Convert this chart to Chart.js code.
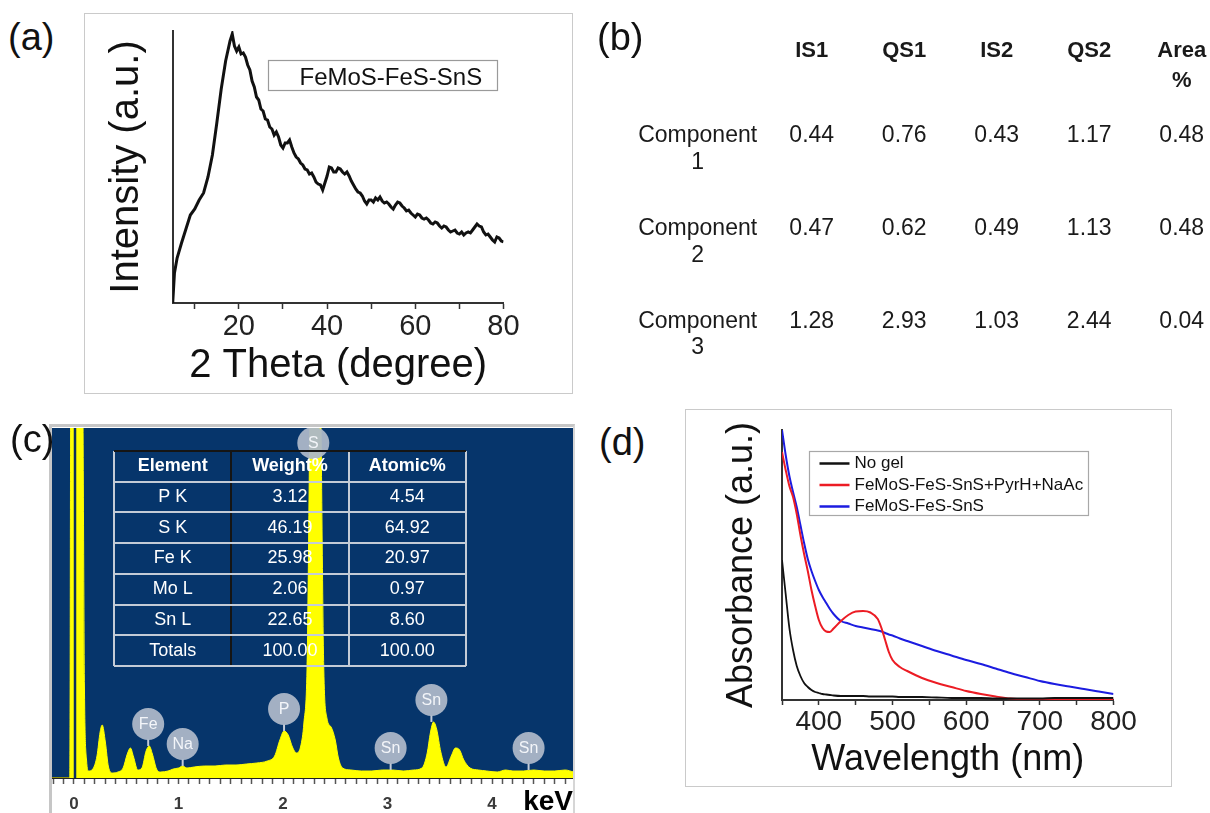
<!DOCTYPE html>
<html lang="en">
<head>
<meta charset="utf-8">
<title>FeMoS-FeS-SnS characterisation</title>
<script src="https://cdn.jsdelivr.net/npm/chart.js"></script>
<style>
  html, body { margin: 0; padding: 0; background: #ffffff; }
  body { position: relative; width: 1210px; height: 813px; overflow: hidden;
         font-family: "Liberation Sans", Arial, sans-serif; color: #111; }
  .tag { position: absolute; font-size: 38px; line-height: 38px; z-index: 5; }
  .frame { position: absolute; box-sizing: border-box; border: 1.5px solid #cacaca; }
  canvas { position: absolute; }
</style>
</head>
<body>
  <div class="frame" style="left:84px; top:13px; width:489px; height:381px"></div>
  <div class="frame" style="left:685px; top:409px; width:487px; height:378px"></div>
  <div style="position:absolute; left:49px; top:424px; width:526px; height:400px; box-sizing:border-box;
              border-top:3px solid #c6c6c6; border-left:3px solid #c6c6c6; border-right:2px solid #d6d6d6"></div>

  <canvas id="xrd" width="489" height="380" style="left:84px; top:13px"></canvas>
  <canvas id="moss" width="615" height="371" style="left:613px; top:-3px"></canvas>
  <canvas id="eds" width="521" height="392" style="left:52px; top:428px"></canvas>
  <canvas id="edsTable" width="356" height="219" style="left:112px; top:449px"></canvas>
  <canvas id="uv" width="487" height="378" style="left:685px; top:409px"></canvas>

  <div class="tag" style="left:8px; top:18px">(a)</div>
  <div class="tag" style="left:597px; top:18px">(b)</div>
  <div class="tag" style="left:10px; top:420px">(c)</div>
  <div class="tag" style="left:599px; top:423px">(d)</div>

<script>
"use strict";

// (a) XRD pattern
const xrdTheta = [5, 5.4, 6, 7, 8, 9, 10, 11, 12, 13, 14, 15, 16, 17, 18, 18.5,
  19, 19.5, 20, 20.5, 21, 21.5, 22, 22.5, 23, 23.5, 24, 24.5, 25, 25.5, 26, 26.5, 27, 27.5,
  28, 28.5, 29, 29.5, 30, 30.5, 31, 31.5, 32, 32.5, 33, 33.5, 34, 34.5, 35, 35.5, 36, 36.5,
  37, 37.5, 38, 38.5, 39, 39.5, 40, 40.5, 41, 41.5, 42, 42.5, 43, 43.5, 44, 44.5, 45, 45.5,
  46, 46.5, 47, 47.5, 48, 48.5, 49, 49.5, 50, 50.5, 51, 51.5, 52, 52.5, 53, 53.5, 54, 54.5,
  55, 55.5, 56, 56.5, 57, 57.5, 58, 58.5, 59, 59.5, 60, 60.5, 61, 61.5, 62, 62.5, 63, 63.5,
  64, 64.5, 65, 65.5, 66, 66.5, 67, 67.5, 68, 68.5, 69, 69.5, 70, 70.5, 71, 71.5, 72, 72.5,
  73, 73.5, 74, 74.5, 75, 75.5, 76, 76.5, 77, 77.5, 78, 78.5, 79, 79.5, 80];
const xrdIntensity = [0, 30, 45, 60, 74, 88, 94, 103, 110, 126, 148, 180, 214, 242, 262, 269,
  257, 252, 256, 249, 250, 246, 238, 233, 222, 216, 206, 203, 194, 192, 184, 183, 176, 174,
  168, 171, 166, 158, 155, 160, 160, 163, 156, 150, 146, 144, 140, 138, 134, 133, 129, 130,
  126, 121, 119, 118, 113, 120, 127, 136, 135, 131, 131, 135, 134, 131, 129, 131, 127, 122,
  118, 114, 111, 110, 107, 102, 99, 103, 103, 101, 105, 103, 106, 102, 100, 101, 99, 96,
  94, 98, 101, 100, 97, 95, 92, 93, 90, 88, 86, 89, 88, 85, 84, 85, 83, 80,
  79, 81, 80, 77, 75, 77, 76, 73, 71, 72, 73, 70, 69, 71, 68, 70, 71, 70,
  73, 76, 79, 77, 76, 71, 68, 69, 66, 63, 61, 66, 65, 62, 61];
const xrdLabel = "FeMoS-FeS-SnS";
const xrdTickLabels = [20, 40, 60, 80];

// (b) Mossbauer fit parameters
const mossHeaders = ["IS1", "QS1", "IS2", "QS2", "Area %"];
const mossComponents = ["Component 1", "Component 2", "Component 3"];
const mossIS1 = [0.44, 0.47, 1.28];
const mossQS1 = [0.76, 0.62, 2.93];
const mossIS2 = [0.43, 0.49, 1.03];
const mossQS2 = [1.17, 1.13, 2.44];
const mossArea = [0.48, 0.48, 0.04];

// (c) EDS spectrum
const edsEnergy = [-0.21, -0.04, -0.03, 0.08, 0.10, 0.12, 0.14, 0.18, 0.22, 0.25,
  0.27, 0.30, 0.33, 0.37, 0.42, 0.47, 0.51, 0.54, 0.57, 0.61,
  0.65, 0.69, 0.72, 0.75, 0.79, 0.83, 0.90, 0.95, 1.00, 1.04,
  1.08, 1.15, 1.25, 1.35, 1.45, 1.55, 1.65, 1.75, 1.85, 1.92,
  1.97, 2.01, 2.05, 2.09, 2.13, 2.17, 2.20, 2.23, 2.27, 2.35,
  2.39, 2.42, 2.46, 2.50, 2.53, 2.57, 2.65, 2.75, 2.85, 2.95,
  3.05, 3.15, 3.25, 3.33, 3.38, 3.41, 3.44, 3.47, 3.51, 3.56,
  3.61, 3.65, 3.69, 3.73, 3.79, 3.87, 3.95, 4.05, 4.13, 4.20,
  4.30, 4.40, 4.50, 4.60, 4.70, 4.78];
const edsCounts = [0, 0, 420, 420, 90, 18, 7, 9, 22, 46,
  53, 36, 11, 5, 6, 10, 24, 30, 21, 8,
  10, 27, 32, 24, 9, 6, 7, 9, 10, 12,
  10, 11, 12, 12, 13, 13, 14, 15, 17, 22,
  38, 47, 43, 31, 25, 32, 55, 110, 420, 420,
  110, 60, 51, 38, 20, 10, 8, 7, 7, 8,
  8, 7, 8, 10, 25, 45, 56, 49, 26, 11,
  22, 30, 28, 18, 10, 8, 7, 6, 8, 7,
  7, 8, 7, 7, 8, 6];
const edsPeakLabels = ["S", "Fe", "Na", "P", "Sn", "Sn", "Sn"];
const edsPeakEnergy = [2.29, 0.71, 1.04, 2.01, 3.03, 3.42, 4.35];
const edsPeakHeight = [420, 32, 12, 47, 8, 56, 8];
const edsTickLabels = [0, 1, 2, 3, 4];
const edsTableHeaders = ["Element", "Weight%", "Atomic%"];
const edsElements = ["P K", "S K", "Fe K", "Mo L", "Sn L", "Totals"];
const edsWeight = [3.12, 46.19, 25.98, 2.06, 22.65, 100.00];
const edsAtomic = [4.54, 64.92, 20.97, 0.97, 8.60, 100.00];

// (d) UV-vis absorbance
const uvWavelength = [350, 355, 360, 365, 370, 375, 380, 385, 390, 395, 400, 405, 410, 415, 420,
  430, 440, 450, 460, 470, 480, 485, 490, 495, 500, 510, 520, 540, 560, 580, 600,
  620, 640, 660, 680, 700, 720, 740, 760, 780, 800];
const uvNoGel = [1.40, 1.06, 0.72, 0.50, 0.34, 0.24, 0.17, 0.13, 0.10, 0.08, 0.07, 0.06, 0.055, 0.05, 0.045,
  0.04, 0.04, 0.04, 0.04, 0.035, 0.035, 0.035, 0.035, 0.035, 0.035, 0.03, 0.03, 0.03, 0.025, 0.02, 0.02,
  0.02, 0.015, 0.015, 0.015, 0.015, 0.02, 0.02, 0.02, 0.02, 0.02];
const uvGelPyrNaAc = [2.48, 2.30, 2.14, 2.03, 1.86, 1.65, 1.46, 1.29, 1.10, 0.94, 0.80, 0.72, 0.685, 0.68, 0.715,
  0.79, 0.85, 0.885, 0.89, 0.875, 0.81, 0.72, 0.60, 0.48, 0.40, 0.33, 0.29, 0.22, 0.17, 0.13, 0.09,
  0.06, 0.035, 0.015, 0.01, 0.01, 0.01, 0.01, 0.01, 0.01, 0.01];
const uvGel = [2.70, 2.45, 2.24, 2.08, 1.93, 1.75, 1.57, 1.41, 1.29, 1.19, 1.10, 1.03, 0.97, 0.91, 0.86,
  0.79, 0.765, 0.74, 0.725, 0.71, 0.695, 0.685, 0.67, 0.655, 0.645, 0.615, 0.59, 0.54, 0.49, 0.445, 0.40,
  0.36, 0.315, 0.27, 0.23, 0.19, 0.16, 0.135, 0.11, 0.085, 0.06];
const uvLabels = ["No gel", "FeMoS-FeS-SnS+PyrH+NaAc", "FeMoS-FeS-SnS"];
const uvColors = ["#111111", "#ec1c24", "#1c1ce0"];
const uvTickLabels = [400, 500, 600, 700, 800];

const FAMILY = '"Liberation Sans", Arial, sans-serif';
Chart.defaults.font.family = FAMILY;
Chart.defaults.color = "#111";

function pairs(xs, ys) {
  return xs.map((x, i) => ({ x: x, y: ys[i] }));
}

// legend drawn as a framed box relative to the chart area
const boxLegend = {
  id: "boxLegend",
  afterDatasetsDraw(chart, args, o) {
    const ctx = chart.ctx;
    const a = chart.chartArea;
    const x0 = Math.round(a.left + o.dx) + 0.5;
    const y0 = Math.round(a.top + o.dy) + 0.5;
    ctx.save();
    ctx.fillStyle = "#fff";
    ctx.fillRect(x0, y0, o.w, o.h);
    ctx.strokeStyle = o.border;
    ctx.lineWidth = 1.2;
    ctx.strokeRect(x0, y0, o.w, o.h);
    ctx.font = o.size + "px " + FAMILY;
    ctx.textBaseline = "middle";
    ctx.textAlign = "left";
    chart.data.datasets.forEach((ds, i) => {
      const cy = y0 + o.first + i * o.gap;
      if (o.sample) {
        ctx.strokeStyle = ds.borderColor;
        ctx.lineWidth = 2.5;
        ctx.beginPath();
        ctx.moveTo(x0 + o.sx, cy);
        ctx.lineTo(x0 + o.sx + o.sample, cy);
        ctx.stroke();
      }
      ctx.fillStyle = "#111";
      ctx.fillText(ds.label, x0 + o.tx, cy);
    });
    ctx.restore();
  }
};

// text in table cells, placed at the point positions from the category scales
const cellText = {
  id: "cellText",
  afterDatasetsDraw(chart) {
    const ctx = chart.ctx;
    ctx.save();
    ctx.textAlign = "center";
    ctx.textBaseline = "middle";
    chart.data.datasets.forEach((ds, i) => {
      const meta = chart.getDatasetMeta(i);
      ctx.font = ds.cellFont + " " + FAMILY;
      ctx.fillStyle = ds.cellColor;
      meta.data.forEach((pt, j) => {
        String(ds.data[j].t).split("\n").forEach((line, k) => {
          ctx.fillText(line, pt.x + (ds.dx || 0), pt.y + (ds.dy || 0) + k * (ds.lineGap || 0));
        });
      });
    });
    ctx.restore();
  }
};

const edsBackdrop = {
  id: "edsBackdrop",
  beforeDraw(chart) {
    const { ctx, chartArea: a } = chart;
    ctx.save();
    ctx.fillStyle = "#06356b";
    ctx.fillRect(a.left, a.top, a.right - a.left, a.bottom - a.top);
    ctx.restore();
  }
};

const edsBadges = {
  id: "edsBadges",
  afterDatasetsDraw(chart) {
    const { ctx, chartArea: a } = chart;
    const x = chart.scales.x;
    const y = chart.scales.y;
    ctx.save();
    const z = x.getPixelForValue(0) + 1;
    ctx.strokeStyle = "#0a2f5e";
    ctx.lineWidth = 2.5;
    ctx.beginPath();
    ctx.moveTo(z, a.top);
    ctx.lineTo(z, a.bottom);
    ctx.stroke();

    const r = 16;
    edsPeakLabels.forEach((lab, i) => {
      const px = x.getPixelForValue(edsPeakEnergy[i]);
      const peakY = Math.max(y.getPixelForValue(edsPeakHeight[i]), a.top);
      const cy = Math.max(peakY - 22, a.top + 15);
      if (peakY > cy + r) {
        ctx.strokeStyle = "#c3cbd8";
        ctx.lineWidth = 2;
        ctx.beginPath();
        ctx.moveTo(px, cy + r - 1);
        ctx.lineTo(px, peakY);
        ctx.stroke();
      }
      ctx.fillStyle = "rgba(172, 183, 200, 0.95)";
      ctx.beginPath();
      ctx.arc(px, cy, r, 0, Math.PI * 2);
      ctx.fill();
      ctx.fillStyle = "#f3f5f9";
      ctx.font = "16px " + FAMILY;
      ctx.textAlign = "center";
      ctx.textBaseline = "middle";
      ctx.fillText(lab, px, cy + 1);
    });
    ctx.restore();
  }
};

const baseOptions = {
  responsive: false,
  animation: false,
  devicePixelRatio: 1,
  events: []
};

// (a)
new Chart(document.getElementById("xrd"), {
  type: "line",
  data: {
    datasets: [{
      label: xrdLabel,
      data: pairs(xrdTheta, xrdIntensity),
      borderColor: "#111111",
      borderWidth: 3,
      pointRadius: 0,
      tension: 0
    }]
  },
  options: Object.assign({}, baseOptions, {
    layout: { padding: { left: 0, right: 69.5, top: 18, bottom: 0 } },
    plugins: {
      legend: { display: false },
      tooltip: { enabled: false },
      boxLegend: { dx: 95, dy: 29, w: 229, h: 30, first: 18, gap: 0, tx: 31, size: 24, sample: 0, border: "#9a9a9a" }
    },
    scales: {
      x: {
        type: "linear", min: 5, max: 80,
        afterFit: (s) => { s.height = 90; s.paddingLeft = 0; s.paddingRight = 0; },
        ticks: {
          stepSize: 10, includeBounds: false, autoSkip: false, maxRotation: 0, padding: 1,
          color: "#222", font: { size: 29 },
          callback: (v) => (xrdTickLabels.includes(v) ? String(v) : "")
        },
        grid: { drawOnChartArea: false, drawTicks: true, tickLength: 6, tickWidth: 1.5, tickColor: "#333" },
        border: { display: true, color: "#333", width: 2 },
        title: { display: true, text: "2 Theta (degree)", color: "#111", font: { size: 40 }, padding: { top: 0, bottom: 3.5 } }
      },
      y: {
        min: 0, max: 272,
        afterFit: (s) => { s.width = 88.7; },
        ticks: { display: false },
        grid: { drawOnChartArea: false, drawTicks: false },
        border: { display: true, color: "#333", width: 2 },
        title: { display: true, text: "Intensity (a.u.)", color: "#111", font: { size: 40 }, padding: { top: 19, bottom: 0 } }
      }
    }
  }),
  plugins: [boxLegend]
});

// (b)
const mossCols = ["label"].concat(mossHeaders);
const mossRows = ["head"].concat(mossComponents);
const mossColumns = [mossIS1, mossQS1, mossIS2, mossQS2, mossArea];
new Chart(document.getElementById("moss"), {
  type: "scatter",
  data: {
    datasets: [
      {
        data: mossHeaders.map((h) => ({ x: h, y: "head", t: h.replace(" ", "\n") })),
        cellFont: "bold 22px", cellColor: "#1a1a1a", dy: 8, lineGap: 30, pointRadius: 0
      },
      {
        data: mossComponents.map((c) => ({ x: "label", y: c, t: c.replace(" ", "\n") })),
        cellFont: "23px", cellColor: "#1a1a1a", dx: -21.6, lineGap: 26.5, pointRadius: 0
      }
    ].concat(mossColumns.map((col, k) => ({
      data: col.map((v, i) => ({ x: mossHeaders[k], y: mossComponents[i], t: v.toFixed(2) })),
      cellFont: "23px", cellColor: "#1a1a1a", pointRadius: 0
    })))
  },
  options: Object.assign({}, baseOptions, {
    layout: { padding: { left: 60, right: 0, top: 0, bottom: 0 } },
    plugins: { legend: { display: false }, tooltip: { enabled: false } },
    scales: {
      x: { type: "category", labels: mossCols, offset: true, display: false },
      y: { type: "category", labels: mossRows, offset: true, display: false }
    }
  }),
  plugins: [cellText]
});

// (c) spectrum
new Chart(document.getElementById("eds"), {
  type: "line",
  data: {
    datasets: [{
      data: pairs(edsEnergy, edsCounts),
      borderColor: "#ffff00",
      backgroundColor: "#ffff00",
      borderWidth: 1,
      fill: "origin",
      pointRadius: 0,
      cubicInterpolationMode: "monotone"
    }]
  },
  options: Object.assign({}, baseOptions, {
    layout: { padding: 0 },
    plugins: { legend: { display: false }, tooltip: { enabled: false } },
    scales: {
      x: {
        type: "linear", min: -0.2105, max: 4.775,
        afterFit: (s) => { s.height = 42; s.paddingLeft = 0; s.paddingRight = 0; },
        ticks: {
          stepSize: 0.1, includeBounds: false, autoSkip: false, maxRotation: 0, maxTicksLimit: 100, padding: 10,
          color: "#3a3a3a", font: { size: 17, weight: "bold" },
          callback: (v) => {
            const r = Math.round(v);
            return Math.abs(v - r) < 1e-6 && edsTickLabels.includes(r) ? String(r) : "";
          }
        },
        grid: { drawOnChartArea: false, drawTicks: true, tickLength: 6, tickWidth: 1.5, tickColor: "#555" },
        border: { display: true, color: "#222", width: 2 },
        title: { display: true, text: "keV", align: "end", color: "#000", font: { size: 28, weight: "bold" }, padding: { top: 0, bottom: 1 } }
      },
      y: { display: false, min: 0, max: 350 }
    }
  }),
  plugins: [edsBackdrop, edsBadges]
});

// (c) quantification table
const edsRows = ["head"].concat(edsElements);
new Chart(document.getElementById("edsTable"), {
  type: "scatter",
  data: {
    datasets: [
      { data: edsTableHeaders.map((h) => ({ x: h, y: "head", t: h })), cellFont: "bold 18px", cellColor: "#ffffff", pointRadius: 0 },
      { data: edsElements.map((e) => ({ x: "Element", y: e, t: e })), cellFont: "18px", cellColor: "#ffffff", pointRadius: 0 },
      { data: edsWeight.map((v, i) => ({ x: "Weight%", y: edsElements[i], t: v.toFixed(2) })), cellFont: "18px", cellColor: "#ffffff", pointRadius: 0 },
      { data: edsAtomic.map((v, i) => ({ x: "Atomic%", y: edsElements[i], t: v.toFixed(2) })), cellFont: "18px", cellColor: "#ffffff", pointRadius: 0 }
    ]
  },
  options: Object.assign({}, baseOptions, {
    layout: { padding: 2 },
    plugins: { legend: { display: false }, tooltip: { enabled: false } },
    scales: {
      x: {
        type: "category", labels: edsTableHeaders, offset: true,
        ticks: { display: false }, border: { display: false },
        grid: { offset: true, drawTicks: false, lineWidth: 2, color: (c) => (c.index === 1 ? "#151515" : "#c3cbd6") }
      },
      y: {
        type: "category", labels: edsRows, offset: true,
        ticks: { display: false }, border: { display: false },
        grid: {
          offset: true, drawTicks: false, lineWidth: 2,
          color: (c) => (c.index === 0 || c.index === edsRows.length ? "#151515" : "#c3cbd6")
        }
      }
    }
  }),
  plugins: [cellText]
});

// (d)
new Chart(document.getElementById("uv"), {
  type: "line",
  data: {
    datasets: [uvNoGel, uvGelPyrNaAc, uvGel].map((vals, i) => ({
      label: uvLabels[i],
      data: pairs(uvWavelength, vals),
      borderColor: uvColors[i],
      borderWidth: i === 0 ? 1.8 : 2,
      pointRadius: 0,
      cubicInterpolationMode: "monotone"
    }))
  },
  options: Object.assign({}, baseOptions, {
    layout: { padding: { left: 0, right: 58.5, top: 21, bottom: 0 } },
    plugins: {
      legend: { display: false },
      tooltip: { enabled: false },
      boxLegend: { dx: 27, dy: 21, w: 279, h: 64, first: 12, gap: 21.5, sx: 10, sample: 30, tx: 45, size: 17, border: "#a8a8a8" }
    },
    scales: {
      x: {
        type: "linear", min: 350, max: 800,
        afterFit: (s) => { s.height = 87; s.paddingLeft = 0; s.paddingRight = 0; },
        ticks: {
          stepSize: 50, autoSkip: false, maxRotation: 0, padding: 0,
          color: "#222", font: { size: 28 },
          callback: (v) => (uvTickLabels.includes(v) ? String(v) : "")
        },
        grid: { drawOnChartArea: false, drawTicks: true, tickLength: 5, tickWidth: 1.5, tickColor: "#333" },
        border: { display: true, color: "#333", width: 2 },
        title: { display: true, text: "Wavelength (nm)", color: "#111", font: { size: 36 }, padding: { top: 0, bottom: 5.4 } }
      },
      y: {
        min: 0, max: 2.7,
        afterFit: (s) => { s.width = 97; },
        ticks: { display: false },
        grid: { drawOnChartArea: false, drawTicks: false },
        border: { display: true, color: "#333", width: 2 },
        title: { display: true, text: "Absorbance (a.u.)", color: "#111", font: { size: 36 }, padding: { top: 35.4, bottom: 0 } }
      }
    }
  }),
  plugins: [boxLegend]
});
</script>
</body>
</html>
